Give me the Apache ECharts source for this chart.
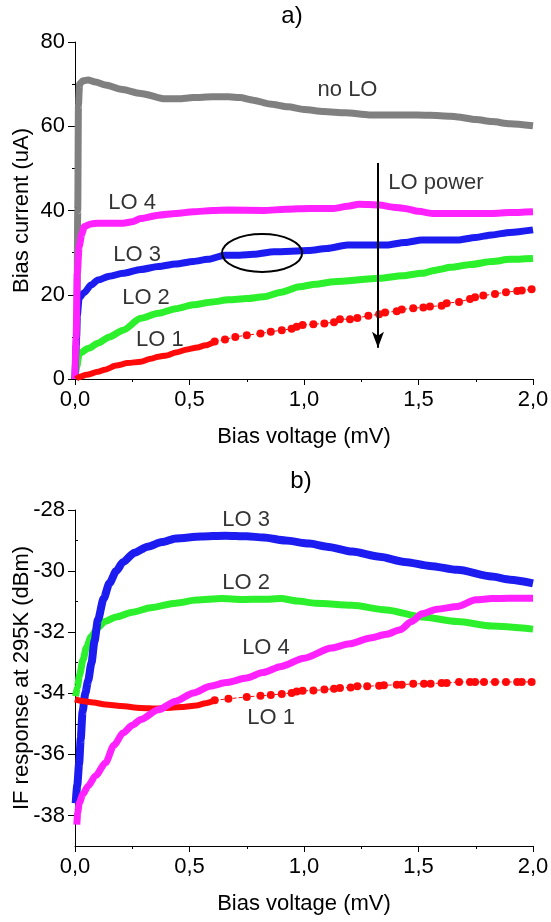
<!DOCTYPE html>
<html>
<head>
<meta charset="utf-8">
<script src="https://cdn.jsdelivr.net/npm/echarts@6/dist/echarts.min.js"></script>
<style>
html,body{margin:0;padding:0;background:#fff;}
#chart{width:551px;height:922px;}
</style>
</head>
<body>
<div id="chart"></div>
<script>
// ---------- Panel a) Bias current vs bias voltage ----------
var xTicksLabels = ['0,0','0,5','1,0','1,5','2,0'];
var noLO_a = [[0.0,0],[0.008,10],[0.012,40],[0.015,65],[0.02,70],[0.035,70.8],[0.057,71],[0.09,70.5],[0.133,69.8],[0.2,68.8],[0.287,67.8],[0.394,66.5],[0.45,66.5],[0.517,66.8],[0.6,67.0],[0.671,67.0],[0.72,66.8],[0.778,66.2],[0.85,65.3],[0.93,64.6],[1.0,64.0],[1.086,63.5],[1.18,63.2],[1.285,62.7],[1.44,62.7],[1.55,62.6],[1.64,62.4],[1.67,62.2],[1.75,61.6],[1.82,61.1],[1.9,60.6],[2.0,60.1]];
var lo4_a = [[0,0],[0.005,10],[0.01,25],[0.018,31.4],[0.03,34.5],[0.041,36.2],[0.07,36.8],[0.1,37.0],[0.15,37.0],[0.21,37.0],[0.25,37.3],[0.287,38.1],[0.364,38.9],[0.44,39.3],[0.517,39.7],[0.6,40.0],[0.67,40.1],[0.824,40.0],[0.92,40.3],[1.024,40.5],[1.13,40.5],[1.19,41.0],[1.24,41.5],[1.33,41.3],[1.39,40.8],[1.44,40.5],[1.5,39.8],[1.56,39.3],[1.67,39.3],[1.82,39.3],[1.9,39.5],[2.0,39.7]];
var lo3_a = [[0,0],[0.005,8],[0.01,15],[0.018,19.2],[0.04,20.5],[0.07,22.3],[0.1,23.5],[0.15,24.4],[0.21,25.1],[0.287,26.0],[0.364,26.7],[0.44,27.3],[0.517,27.9],[0.58,28.4],[0.656,29.4],[0.72,29.4],[0.78,29.6],[0.87,30.2],[1.02,30.5],[1.1,31.0],[1.19,31.8],[1.36,31.8],[1.44,32.4],[1.515,33.0],[1.67,33.0],[1.75,33.6],[1.82,34.2],[1.9,34.8],[2.0,35.4]];
var lo2_a = [[0,0],[0.008,3],[0.018,6.1],[0.06,7.3],[0.1,8.5],[0.15,10.0],[0.21,11.6],[0.287,14.4],[0.364,15.6],[0.44,16.7],[0.517,17.6],[0.6,18.3],[0.67,18.8],[0.75,19.1],[0.824,19.5],[0.9,20.6],[0.98,21.9],[1.05,22.5],[1.13,23.1],[1.33,23.9],[1.43,24.5],[1.515,25.1],[1.58,25.9],[1.64,26.5],[1.73,27.2],[1.82,27.9],[1.9,28.4],[2.0,28.6]];
var lo1_a_dense = [[0.005,0],[0.018,0.5],[0.05,1.0],[0.1,1.7],[0.13,2.2],[0.18,3.2],[0.23,3.8],[0.287,4.1],[0.33,4.8],[0.364,5.3],[0.4,5.6],[0.44,6.3],[0.49,7.0],[0.534,7.5],[0.57,8.0],[0.61,8.9]];
var lo1_a_dots = [[0.61,8.9],[0.655,9.4],[0.70,10.0],[0.75,10.4],[0.81,10.8],[0.855,11.2],[0.903,11.6],[0.946,11.9],[0.968,12.4],[0.994,12.8],[1.041,13.0],[1.089,13.2],[1.131,13.5],[1.157,14.2],[1.201,14.2],[1.233,14.5],[1.281,15.0],[1.328,15.4],[1.354,15.8],[1.405,16.1],[1.427,16.5],[1.477,16.8],[1.521,17.0],[1.550,17.2],[1.601,17.4],[1.623,18.0],[1.677,18.3],[1.725,19.0],[1.747,19.4],[1.783,19.8],[1.834,20.2],[1.882,20.6],[1.931,20.9],[1.951,21.0],[1.994,21.3]];
var labels_a = [{name:'no LO',value:[1.19,68.6]},{name:'LO power',value:[1.576,46.5]},{name:'LO 4',value:[0.249,41.8]},{name:'LO 3',value:[0.271,29.4]},{name:'LO 2',value:[0.31,19.2]},{name:'LO 1',value:[0.371,9.3]}];
var arrow_a = [[1.323,51.3],[1.323,7.4]];
var ellipseCenter_a = [0.817,29.9];
var ellipseRadii_a = [0.175,4.5];

// ---------- Panel b) IF response vs bias voltage ----------
var lo3_b = [[0.003,-37.6],[0.01,-37.0],[0.018,-36.3],[0.025,-35.5],[0.033,-34.6],[0.045,-34.0],[0.057,-33.6],[0.072,-33.0],[0.085,-32.3],[0.1,-31.6],[0.125,-30.9],[0.15,-30.4],[0.18,-30.0],[0.21,-29.7],[0.26,-29.4],[0.317,-29.2],[0.38,-29.05],[0.44,-28.93],[0.55,-28.87],[0.656,-28.84],[0.75,-28.86],[0.824,-28.9],[0.92,-29.0],[1.024,-29.1],[1.1,-29.2],[1.21,-29.36],[1.33,-29.53],[1.44,-29.7],[1.55,-29.83],[1.67,-29.96],[1.82,-30.18],[1.9,-30.28],[2.0,-30.4]];
var lo2_b = [[0.003,-34.1],[0.01,-33.8],[0.02,-33.4],[0.035,-32.9],[0.05,-32.5],[0.07,-32.15],[0.1,-31.85],[0.13,-31.65],[0.18,-31.5],[0.25,-31.35],[0.33,-31.2],[0.44,-31.05],[0.53,-30.95],[0.64,-30.9],[0.73,-30.93],[0.824,-30.92],[0.9,-30.9],[0.97,-30.98],[1.05,-31.05],[1.21,-31.12],[1.36,-31.27],[1.515,-31.5],[1.67,-31.65],[1.82,-31.8],[2.0,-31.9]];
var lo4_b = [[0.008,-38.3],[0.012,-37.9],[0.018,-37.6],[0.035,-37.3],[0.057,-37.04],[0.09,-36.7],[0.133,-36.28],[0.17,-35.7],[0.21,-35.3],[0.25,-35.05],[0.287,-34.86],[0.364,-34.54],[0.44,-34.26],[0.517,-33.99],[0.59,-33.77],[0.66,-33.65],[0.75,-33.5],[0.82,-33.32],[0.9,-33.12],[1.0,-32.85],[1.12,-32.52],[1.2,-32.38],[1.29,-32.19],[1.36,-32.07],[1.42,-31.92],[1.47,-31.65],[1.515,-31.4],[1.58,-31.25],[1.67,-31.16],[1.75,-30.94],[1.82,-30.9],[1.9,-30.89],[2.0,-30.89]];
var lo1_b_dense = [[0.0,-34.2],[0.03,-34.25],[0.08,-34.3],[0.133,-34.37],[0.2,-34.42],[0.287,-34.48],[0.364,-34.5],[0.42,-34.47],[0.47,-34.45],[0.53,-34.4],[0.57,-34.33],[0.61,-34.23]];
var lo1_b_dots = [[0.61,-34.23],[0.67,-34.18],[0.75,-34.12],[0.81,-34.08],[0.855,-34.06],[0.903,-34.02],[0.946,-33.99],[0.968,-33.94],[0.994,-33.92],[1.041,-33.91],[1.089,-33.88],[1.131,-33.85],[1.157,-33.83],[1.204,-33.81],[1.233,-33.77],[1.276,-33.77],[1.328,-33.75],[1.349,-33.74],[1.405,-33.72],[1.427,-33.72],[1.477,-33.69],[1.524,-33.69],[1.553,-33.69],[1.601,-33.66],[1.623,-33.66],[1.677,-33.63],[1.725,-33.63],[1.747,-33.63],[1.786,-33.63],[1.834,-33.63],[1.882,-33.63],[1.931,-33.63],[1.951,-33.63],[1.994,-33.63]];
var labels_b = [{name:'LO 3',value:[0.747,-28.33]},{name:'LO 2',value:[0.747,-30.39]},{name:'LO 4',value:[0.834,-32.51]},{name:'LO 1',value:[0.856,-34.8]}];
var yTicksMajor_b = [-38,-36,-34,-32,-30,-28];
var yTicksMinor_b = [-39,-37,-35,-33,-31,-29];

var FONT = 'Liberation Sans, Arial, sans-serif';
var C = {gray:'#808080', magenta:'#ff22ff', blue:'#1c1cf0', green:'#2cf02c', red:'#ff0a0a'};

function xAxisDef(gi){
  return {
    type:'value', gridIndex:gi, min:0, max:2, interval:0.5,
    name:'Bias voltage (mV)', nameLocation:'middle', nameGap:47, nameMoveOverlap:false,
    nameTextStyle:{fontSize:22, color:'#000', fontFamily:FONT},
    axisLine:{show:true, onZero:false, lineStyle:{color:'#000', width:1}},
    axisTick:{show:true, inside:false, length:6, lineStyle:{color:'#000'}},
    minorTick:{show:true, splitNumber:2, length:3, lineStyle:{color:'#000'}},
    splitLine:{show:false}, minorSplitLine:{show:false},
    axisLabel:{fontSize:22, color:'#000', fontFamily:FONT, margin:10,
      formatter:function(v){ return xTicksLabels[Math.round(v/0.5)]; }}
  };
}
function lineSeries(data, color, width, xi, yi){
  return {type:'line', xAxisIndex:xi, yAxisIndex:yi, data:data, showSymbol:false, symbol:'none',
    smooth:0.25, smoothMonotone:'x', lineStyle:{color:color, width:width}, itemStyle:{color:color}, silent:true, z:3};
}
function dotSeries(data, xi, yi){
  return {type:'line', xAxisIndex:xi, yAxisIndex:yi, data:data, symbol:'circle', symbolSize:8, showSymbol:true,
    lineStyle:{color:C.red, width:1, type:'dashed'}, itemStyle:{color:C.red, borderWidth:0}, silent:true, z:3};
}
function labelSeries(data, xi, yi){
  return {type:'scatter', xAxisIndex:xi, yAxisIndex:yi, data:data, symbolSize:1, silent:true, z:10,
    itemStyle:{color:'rgba(0,0,0,0)'},
    label:{show:true, position:'inside', formatter:'{b}', fontSize:22, color:'#000', fontFamily:FONT}};
}

var chart = echarts.init(document.getElementById('chart'), null, {renderer:'canvas'});
var titleGraphics = [
  {type:'text', x:292, y:16, style:{text:'a)', fontSize:24, fontFamily:FONT, fill:'#000', align:'center', verticalAlign:'middle'}},
  {type:'text', x:301, y:481, style:{text:'b)', fontSize:24, fontFamily:FONT, fill:'#000', align:'center', verticalAlign:'middle'}}
];
var option = {
  animation:false,
  backgroundColor:'#fff',
  textStyle:{fontFamily:FONT},
  grid:[
    {left:75, top:42, width:458, height:337, containLabel:false, outerBoundsMode:'none'},
    {left:75, top:510, width:458, height:336, containLabel:false, outerBoundsMode:'none'}
  ],
  xAxis:[xAxisDef(0), xAxisDef(1)],
  yAxis:[
    {type:'value', gridIndex:0, min:0, max:80, interval:20,
     name:'Bias current (uA)', nameLocation:'middle', nameGap:42, nameMoveOverlap:false,
     nameTextStyle:{fontSize:22, color:'#000', fontFamily:FONT},
     axisLine:{show:true, onZero:false, lineStyle:{color:'#000', width:1}},
     axisTick:{show:true, length:7, lineStyle:{color:'#000'}},
     minorTick:{show:true, splitNumber:2, length:3, lineStyle:{color:'#000'}},
     splitLine:{show:false}, minorSplitLine:{show:false},
     axisLabel:{fontSize:22, color:'#000', fontFamily:FONT, margin:10}},
    {type:'value', gridIndex:1, min:-39, max:-28, interval:1,
     name:'IF response at 295K (dBm)', nameLocation:'middle', nameGap:42, nameMoveOverlap:false,
     nameTextStyle:{fontSize:22, color:'#000', fontFamily:FONT},
     axisLine:{show:true, onZero:false, lineStyle:{color:'#000', width:1}},
     axisTick:{show:true, length:7, customValues:yTicksMajor_b, lineStyle:{color:'#000'}},
     splitLine:{show:false},
     axisLabel:{fontSize:22, color:'#000', fontFamily:FONT, margin:10, customValues:yTicksMajor_b}},
    {type:'value', gridIndex:1, min:-39, max:-28, interval:1,
     axisLine:{show:false},
     axisTick:{show:true, length:3, customValues:yTicksMinor_b, lineStyle:{color:'#000'}},
     splitLine:{show:false},
     axisLabel:{show:false}}
  ],
  graphic:titleGraphics,
  series:[
    lineSeries(noLO_a, C.gray, 7, 0, 0),
    lineSeries(lo2_a, C.green, 7, 0, 0),
    lineSeries(lo3_a, C.blue, 7, 0, 0),
    lineSeries(lo4_a, C.magenta, 7, 0, 0),
    lineSeries(lo1_a_dense, C.red, 6, 0, 0),
    dotSeries(lo1_a_dots, 0, 0),
    labelSeries(labels_a, 0, 0),
    {type:'line', xAxisIndex:0, yAxisIndex:0, data:[], silent:true,
     markLine:{silent:true, symbol:['none','arrow'], symbolSize:[9,16], animation:false,
       lineStyle:{color:'#000', width:2, type:'solid'}, label:{show:false},
       data:[[{coord:arrow_a[0]},{coord:arrow_a[1]}]]}},
    lineSeries(lo2_b, C.green, 7, 1, 1),
    lineSeries(lo3_b, C.blue, 8, 1, 1),
    lineSeries(lo1_b_dense, C.red, 6, 1, 1),
    dotSeries(lo1_b_dots, 1, 1),
    lineSeries(lo4_b, C.magenta, 7, 1, 1),
    labelSeries(labels_b, 1, 1)
  ]
};
chart.setOption(option);

// ellipse annotation positioned through the axes' own scales
var pc = chart.convertToPixel({gridIndex:0}, ellipseCenter_a);
var pe = chart.convertToPixel({gridIndex:0}, [ellipseCenter_a[0]+ellipseRadii_a[0], ellipseCenter_a[1]+ellipseRadii_a[1]]);
chart.setOption({graphic:titleGraphics.concat([
  {type:'ellipse', shape:{cx:pc[0], cy:pc[1], rx:Math.abs(pe[0]-pc[0]), ry:Math.abs(pc[1]-pe[1])},
   style:{fill:'none', stroke:'#000', lineWidth:2}, z:20}
])});
</script>
</body>
</html>
